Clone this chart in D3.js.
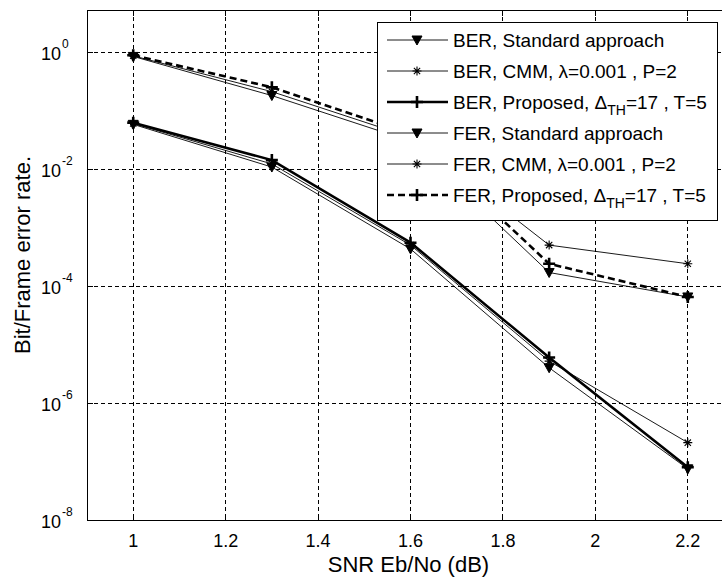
<!DOCTYPE html>
<html>
<head>
<meta charset="utf-8">
<script src="https://cdn.jsdelivr.net/npm/d3@7"></script>
<style>
  html, body { margin: 0; padding: 0; background: #fff; }
  svg { display: block; font-family: "Liberation Sans", Arial, sans-serif; }
</style>
</head>
<body>
<svg id="chart" width="722" height="580"></svg>
<script>
// SNR points (dB)
const snr = [1, 1.3, 1.6, 1.9, 2.2];

// Bit error rates
const berStandard = [0.058, 0.0108, 4.3e-4, 4.0e-6, 7.5e-8];
const berCMM      = [0.060, 0.0122, 5.0e-4, 5.2e-6, 2.1e-7];
const berProposed = [0.062, 0.0142, 5.5e-4, 6.0e-6, 8.0e-8];

// Frame error rates
const ferStandard = [0.84, 0.18, 0.030, 1.7e-4, 6.5e-5];
const ferCMM      = [0.86, 0.21, 0.035, 5.0e-4, 2.4e-4];
const ferProposed = [0.88, 0.25, 0.040, 2.4e-4, 6.5e-5];

// Axis ticks
const xTicks = [1, 1.2, 1.4, 1.6, 1.8, 2, 2.2];
const yTickExp = [0, -2, -4, -6, -8];

const xLabel = "SNR Eb/No (dB)";
const yLabel = "Bit/Frame error rate.";

const series = [
  { name: "BER", method: "std",  values: berStandard, label: ["BER, Standard approach"] },
  { name: "BER", method: "cmm",  values: berCMM,      label: ["BER, CMM, λ=0.001", " , P=2"] },
  { name: "BER", method: "prop", values: berProposed, label: ["BER, Proposed, Δ", "TH", "=17", " , T=5"] },
  { name: "FER", method: "std",  values: ferStandard, label: ["FER, Standard approach"] },
  { name: "FER", method: "cmm",  values: ferCMM,      label: ["FER, CMM, λ=0.001", " , P=2"] },
  { name: "FER", method: "prop", values: ferProposed, label: ["FER, Proposed, Δ", "TH", "=17", " , T=5"] }
];

const svg = d3.select("#chart");
const L = 87, R = 734, T = 10, B = 520;

const x = d3.scaleLinear().domain([0.9, 2.3]).range([L, R]);
const y = d3.scaleLog().domain([1e-8, Math.pow(10, 0.718)]).range([B, T]);

// clip region for plot contents
svg.append("defs").append("clipPath").attr("id", "plotClip")
  .append("rect").attr("x", L).attr("y", T).attr("width", R - L).attr("height", B - T);

const plot = svg.append("g").attr("clip-path", "url(#plotClip)");

// grid
plot.append("g").selectAll("line").data(xTicks).join("line")
  .attr("x1", d => x(d)).attr("x2", d => x(d))
  .attr("y1", T).attr("y2", B)
  .attr("stroke", "#000").attr("stroke-width", 1).attr("stroke-dasharray", "4,3")
  .attr("shape-rendering", "crispEdges");
plot.append("g").selectAll("line").data(yTickExp).join("line")
  .attr("x1", L).attr("x2", R)
  .attr("y1", d => y(Math.pow(10, d))).attr("y2", d => y(Math.pow(10, d)))
  .attr("stroke", "#000").attr("stroke-width", 1).attr("stroke-dasharray", "4,3")
  .attr("shape-rendering", "crispEdges");

const line = d3.line().x((d, i) => x(snr[i])).y(d => y(d));

function lineStyle(sel, s) {
  const thick = s.method === "prop";
  sel.attr("fill", "none").attr("stroke", "#000")
    .attr("stroke-width", thick ? 2.6 : 0.9)
    .attr("stroke-dasharray", (thick && s.name === "FER") ? "7,4" : null);
}

function drawMarker(g, method, cx, cy) {
  if (method === "std") {
    g.append("path")
      .attr("d", `M${cx - 5},${cy - 4} L${cx + 5},${cy - 4} L${cx},${cy + 5} Z`)
      .attr("fill", "#000").attr("stroke", "#000").attr("stroke-width", 1);
  } else if (method === "cmm") {
    const r = 4.5, k = r * 0.7;
    g.append("path")
      .attr("d", `M${cx - r},${cy} L${cx + r},${cy} M${cx},${cy - r} L${cx},${cy + r} M${cx - k},${cy - k} L${cx + k},${cy + k} M${cx - k},${cy + k} L${cx + k},${cy - k}`)
      .attr("stroke", "#000").attr("stroke-width", 1.1).attr("fill", "none");
  } else {
    const r = 6;
    g.append("path")
      .attr("d", `M${cx - r},${cy} L${cx + r},${cy} M${cx},${cy - r} L${cx},${cy + r}`)
      .attr("stroke", "#000").attr("stroke-width", 2.6).attr("fill", "none");
  }
}

// curves, thin ones first so the thick curves sit on top
const order = [0, 1, 3, 4, 2, 5];
order.forEach(idx => {
  const s = series[idx];
  plot.append("path").datum(s.values).attr("d", line).call(lineStyle, s);
  const mg = plot.append("g");
  s.values.forEach((v, i) => drawMarker(mg, s.method, x(snr[i]), y(v)));
});

// axes box
svg.append("rect").attr("x", L + 0.5).attr("y", T + 0.5)
  .attr("width", R - L).attr("height", B - T)
  .attr("fill", "none").attr("stroke", "#000").attr("stroke-width", 1);

// inner tick marks
const tk = svg.append("g").attr("stroke", "#000").attr("stroke-width", 1).attr("shape-rendering", "crispEdges");
xTicks.forEach(t => {
  tk.append("line").attr("x1", x(t)).attr("x2", x(t)).attr("y1", B).attr("y2", B - 6);
  tk.append("line").attr("x1", x(t)).attr("x2", x(t)).attr("y1", T).attr("y2", T + 6);
});
yTickExp.forEach(e => {
  const yy = y(Math.pow(10, e));
  tk.append("line").attr("x1", L).attr("x2", L + 6).attr("y1", yy).attr("y2", yy);
});

// x tick labels
const fmt = d3.format("~g");
svg.append("g").selectAll("text").data(xTicks).join("text")
  .attr("x", d => x(d)).attr("y", 547)
  .attr("text-anchor", "middle").attr("font-size", 18).attr("fill", "#000")
  .text(d => fmt(d));

// y tick labels, 10 with a raised exponent
const yl = svg.append("g");
yTickExp.forEach(e => {
  const yy = y(Math.pow(10, e));
  yl.append("text").attr("x", 61).attr("y", yy + 8)
    .attr("text-anchor", "end").attr("font-size", 18).attr("fill", "#000").text("10");
  yl.append("text").attr("x", 62).attr("y", yy - 4)
    .attr("font-size", 12).attr("fill", "#000").text(String(e));
});

// axis titles
svg.append("text").attr("x", x(1.6) - 2).attr("y", 572)
  .attr("text-anchor", "middle").attr("font-size", 22).attr("fill", "#000").text(xLabel);
svg.append("text").attr("transform", `translate(30,255) rotate(-90)`)
  .attr("text-anchor", "middle").attr("font-size", 22).attr("fill", "#000").text(yLabel);

// legend
const lg = svg.append("g");
lg.append("rect").attr("x", 377.5).attr("y", 22.5).attr("width", 340).attr("height", 198)
  .attr("fill", "#fff").attr("stroke", "#000").attr("stroke-width", 1);
series.forEach((s, i) => {
  const cy = 40 + i * 31;
  lg.append("line").attr("x1", 387).attr("x2", 448).attr("y1", cy).attr("y2", cy).call(lineStyle, s);
  drawMarker(lg, s.method, 417, cy);
  const t = lg.append("text").attr("x", 453).attr("y", cy + 7)
    .attr("font-size", 19).attr("fill", "#000");
  if (s.label.length === 1) {
    t.text(s.label[0]);
  } else if (s.label.length === 2) {
    t.append("tspan").text(s.label[0]);
    t.append("tspan").text(s.label[1]);
  } else {
    t.append("tspan").text(s.label[0]);
    t.append("tspan").attr("dy", 6).attr("font-size", 14).text(s.label[1]);
    t.append("tspan").attr("dy", -6).text(s.label[2]);
    t.append("tspan").text(s.label[3]);
  }
});
</script>
</body>
</html>
